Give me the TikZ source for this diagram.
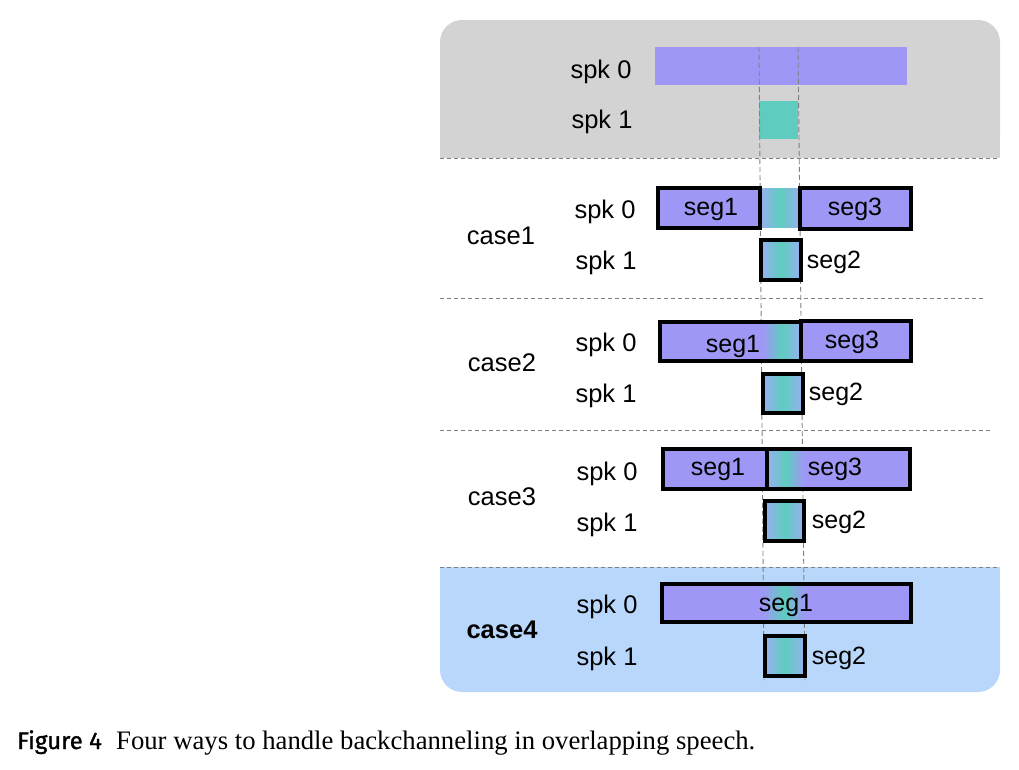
\documentclass[tikz,border=0pt]{standalone}
\usepackage{fontspec}
\setmainfont{Liberation Serif}
\setsansfont{Liberation Sans}
\newfontfamily\capsans[FakeBold=1.2]{Fira Sans}
\definecolor{spkpurple}{RGB}{159,151,245}
\definecolor{spkteal}{RGB}{94,205,191}
\definecolor{gradblue}{RGB}{152,176,240}
\definecolor{panelgray}{RGB}{211,211,211}
\definecolor{panelblue}{RGB}{184,215,251}
\definecolor{dashgray}{RGB}{128,128,128}
\tikzset{
  lbl/.style={font=\sffamily\fontsize{25.5}{30}\selectfont, inner sep=0pt, yshift=-2pt},
  seglbl/.style={font=\sffamily\fontsize{25}{30}\selectfont, inner sep=0pt, yshift=-2pt},
  segborder/.style={draw=black, line width=3.5pt},
  sepline/.style={draw=dashgray, line width=0.9pt, dash pattern=on 4pt off 3pt},
  vline/.style={draw=dashgray, line width=0.9pt, dash pattern=on 5pt off 3pt},
  gradfill/.style={left color=gradblue, right color=gradblue, middle color=spkteal},
}
\begin{document}
\begin{tikzpicture}[x=1pt,y=-1pt]
\useasboundingbox (0,0) rectangle (1019,769);
% panels
\fill[panelgray, rounded corners=22pt] (440,20) rectangle (1000,158);
\fill[panelgray] (440,100) rectangle (1000,158);
\fill[panelblue, rounded corners=22pt] (440,567) rectangle (1000,692);
\fill[panelblue] (440,567) rectangle (1000,630);
% separators
\coordinate (s0a) at (440,158); \coordinate (s0b) at (1000,158);
\coordinate (s1a) at (440,298); \coordinate (s1b) at (985,298);
\coordinate (s2a) at (440,430); \coordinate (s2b) at (990,430);
\coordinate (s3a) at (440,567); \coordinate (s3b) at (1000,567);
\draw[sepline] (s0a) -- (s0b);
\draw[sepline] (s1a) -- (s1b);
\draw[sepline] (s2a) -- (s2b);
\draw[sepline] (s3a) -- (s3b);
% top reference bars
\fill[spkpurple] (655,47) rectangle (907,85);
\fill[spkteal] (759,101) rectangle (798,139);
% vertical dashed lines
\coordinate (vlt) at (759,47); \coordinate (vlb) at (764,680);
\coordinate (vrt) at (798,47); \coordinate (vrb) at (805,680);
\draw[vline] (vlt) -- (vlb);
\draw[vline] (vrt) -- (vrb);
% top labels
\node[lbl] (t0) at (601,70) {spk 0};
\node[lbl] (t1) at (602,120) {spk 1};
% ---- case 1
\shade[gradfill] (760,188) rectangle (800,227);
\fill[spkpurple] (658,188) rectangle (760,228);
\draw[segborder] (658,188) rectangle (760,228);
\fill[spkpurple] (800,188) rectangle (911,229);
\draw[segborder] (800,188) rectangle (911,229);
\shade[gradfill] (761,240) rectangle (801,280);
\draw[segborder] (761,240) rectangle (801,280);
\node[lbl] (c1) at (501,234) {case1};
\node[lbl] (c1s0) at (605,210) {spk 0};
\node[lbl] (c1s1) at (606,261) {spk 1};
\node[seglbl] (c1g1) at (711,207) {seg1};
\node[seglbl] (c1g3) at (855,207) {seg3};
\node[seglbl] (c1g2) at (834,260) {seg2};
% ---- case 2
\fill[spkpurple] (660,322) rectangle (801,361);
\shade[left color=spkpurple, right color=gradblue, middle color=spkteal] (763,322) rectangle (801,361);
\draw[segborder] (660,322) rectangle (801,361);
\fill[spkpurple] (801,321) rectangle (911,361);
\draw[segborder] (801,321) rectangle (911,361);
\shade[gradfill] (763,374) rectangle (803,413);
\draw[segborder] (763,374) rectangle (803,413);
\node[lbl] (c2) at (502,361) {case2};
\node[lbl] (c2s0) at (606,343) {spk 0};
\node[lbl] (c2s1) at (606,394) {spk 1};
\node[seglbl] (c2g1) at (733,344) {seg1};
\node[seglbl] (c2g3) at (852,340) {seg3};
\node[seglbl] (c2g2) at (836,392) {seg2};
% ---- case 3
\fill[spkpurple] (663,449) rectangle (767,489);
\draw[segborder] (663,449) rectangle (767,489);
\fill[spkpurple] (767,449) rectangle (910,489);
\shade[left color=gradblue, right color=spkpurple, middle color=spkteal] (767,449) rectangle (804,489);
\draw[segborder] (767,449) rectangle (910,489);
\shade[gradfill] (765,501) rectangle (804,541);
\draw[segborder] (765,501) rectangle (804,541);
\node[lbl] (c3) at (502,495) {case3};
\node[lbl] (c3s0) at (607,472) {spk 0};
\node[lbl] (c3s1) at (607,523) {spk 1};
\node[seglbl] (c3g1) at (718,467) {seg1};
\node[seglbl] (c3g3) at (835,467) {seg3};
\node[seglbl] (c3g2) at (839,520) {seg2};
% ---- case 4
\fill[spkpurple] (662,584) rectangle (911,622);
\shade[left color=spkpurple, right color=spkpurple, middle color=spkteal] (763,584) rectangle (805,622);
\draw[segborder] (662,584) rectangle (911,622);
\shade[gradfill] (765,636) rectangle (805,676);
\draw[segborder] (765,636) rectangle (805,676);
\node[lbl, font=\sffamily\bfseries\fontsize{25.5}{30}\selectfont] (c4) at (502,628) {case4};
\node[lbl] (c4s0) at (607,605) {spk 0};
\node[lbl] (c4s1) at (607,657) {spk 1};
\node[seglbl] (c4g1) at (786,603) {seg1};
\node[seglbl] (c4g2) at (839,656) {seg2};
% caption
\node[anchor=base west, inner sep=0pt, font=\capsans\fontsize{24}{28}\selectfont] (fig) at (17,749) {Figure 4};
\node[anchor=base west, inner sep=0pt, font=\rmfamily\fontsize{26.7}{31}\selectfont] (cap) at (116,749) {Four ways to handle backchanneling in overlapping speech.};
\end{tikzpicture}
\end{document}
